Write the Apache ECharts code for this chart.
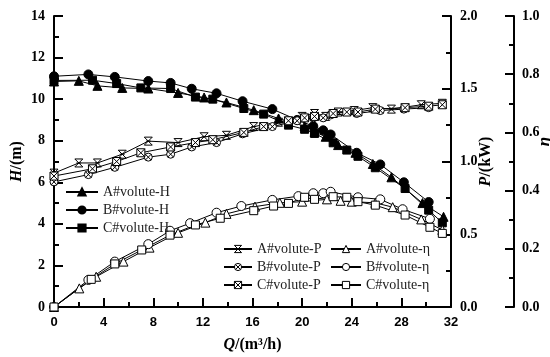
<!DOCTYPE html>
<html><head><meta charset="utf-8">
<script src="https://cdn.jsdelivr.net/npm/echarts@6/dist/echarts.min.js"></script>
<style>html,body{margin:0;padding:0;background:#fff}#c{width:550px;height:357px}</style>
</head><body><div id="c"></div>
<script>
// Flow rate ticks
const xTicks = [0, 4, 8, 12, 16, 20, 24, 28, 32];
// Head H (m)
const qA_H = [0, 2.0, 3.5, 5.5, 7.6, 10.0, 12.1, 13.9, 16.1, 18.1, 20.2, 21.0, 21.9, 22.9, 24.3, 25.7, 27.2, 29.7, 31.4];
const hA   = [10.85, 10.88, 10.64, 10.54, 10.51, 10.3, 10.08, 9.84, 9.47, 9.07, 8.7, 8.43, 8.19, 7.79, 7.42, 6.88, 6.24, 5.0, 4.34];
const qB_H = [0, 2.77, 4.9, 7.6, 9.4, 11.1, 13.1, 15.2, 17.6, 19.6, 20.9, 21.7, 22.3, 24.4, 26.3, 28.2, 30.2];
const hB   = [11.1, 11.19, 11.07, 10.87, 10.78, 10.5, 10.28, 9.9, 9.52, 9.0, 8.7, 8.5, 8.3, 7.42, 6.86, 6.0, 5.05];
const qC_H = [0, 3.1, 5.05, 7.0, 9.4, 11.4, 12.8, 15.3, 16.9, 18.9, 20.2, 21.0, 22.5, 23.6, 24.5, 25.9, 28.3, 30.2, 31.3];
const hC   = [10.9, 10.91, 10.75, 10.54, 10.51, 10.1, 10.0, 9.55, 9.28, 8.75, 8.55, 8.35, 7.9, 7.55, 7.25, 6.7, 5.7, 4.66, 4.05];
// Power P (kW)
const qA_P = [0, 2.0, 3.5, 5.5, 7.6, 10.0, 12.1, 13.9, 16.1, 18.1, 20.0, 21.0, 21.9, 22.9, 24.2, 25.7, 27.2, 29.6, 31.3];
const pA   = [0.92, 0.99, 0.99, 1.05, 1.14, 1.13, 1.17, 1.18, 1.24, 1.27, 1.31, 1.33, 1.31, 1.34, 1.35, 1.37, 1.36, 1.39, 1.40];
const qB_P = [0, 2.77, 4.9, 7.6, 9.4, 11.1, 13.1, 15.2, 17.6, 19.6, 20.9, 21.7, 22.3, 24.4, 26.3, 28.2, 30.2];
const pB   = [0.86, 0.91, 0.96, 1.03, 1.05, 1.10, 1.13, 1.19, 1.24, 1.28, 1.30, 1.30, 1.32, 1.33, 1.35, 1.36, 1.37];
const qC_P = [0, 3.1, 5.05, 7.0, 9.4, 11.4, 12.8, 15.3, 16.9, 18.9, 20.2, 21.0, 22.5, 23.6, 24.5, 25.9, 28.3, 30.2, 31.3];
const pC   = [0.90, 0.95, 1.00, 1.06, 1.10, 1.13, 1.15, 1.20, 1.24, 1.28, 1.30, 1.31, 1.33, 1.34, 1.34, 1.36, 1.37, 1.38, 1.39];
// Efficiency eta
const qA_E = [0, 2.04, 3.4, 5.6, 7.7, 10.0, 12.2, 13.9, 16.2, 18.2, 20.0, 22.0, 23.1, 24.0, 25.9, 27.3, 29.6, 31.3];
const eA   = [0, 0.064, 0.104, 0.156, 0.204, 0.255, 0.29, 0.32, 0.345, 0.358, 0.362, 0.37, 0.365, 0.362, 0.358, 0.343, 0.301, 0.265];
const qB_E = [0, 2.77, 4.9, 7.6, 9.35, 10.97, 13.1, 15.1, 17.6, 19.7, 20.9, 21.7, 22.3, 24.5, 26.3, 28.1, 30.3];
const eB   = [0, 0.093, 0.156, 0.216, 0.262, 0.288, 0.324, 0.347, 0.368, 0.381, 0.391, 0.391, 0.396, 0.377, 0.37, 0.336, 0.303];
const qC_E = [0, 3.0, 4.9, 7.07, 9.35, 11.4, 13.4, 16.1, 17.7, 18.9, 20.2, 21.0, 22.5, 23.6, 24.5, 25.9, 28.3, 30.3, 31.3];
const eC   = [0, 0.095, 0.148, 0.196, 0.247, 0.282, 0.305, 0.331, 0.347, 0.356, 0.377, 0.37, 0.379, 0.377, 0.362, 0.35, 0.316, 0.274, 0.253];

const names = {
  AH: 'A#volute-H', BH: 'B#volute-H', CH: 'C#volute-H',
  AP: 'A#volute-P', BP: 'B#volute-P', CP: 'C#volute-P',
  AE: 'A#volute-η', BE: 'B#volute-η', CE: 'C#volute-η'
};

function pairs(xs, ys) { return xs.map((x, i) => [x, ys[i]]); }

const symAP = 'path://M0,0 L10,0 M0,10 L10,10 M0,0 L10,10 M10,0 L0,10 M2,5 L8,5';
const symBP = 'path://M5,0 A5,5 0 1,1 5,10 A5,5 0 1,1 5,0 Z M1.5,1.5 L8.5,8.5 M8.5,1.5 L1.5,8.5';
const symCP = 'path://M0,0 L10,0 L10,10 L0,10 Z M0,0 L10,10 M10,0 L0,10';

const serif = 'Liberation Serif';
const tickSerif = () => ({fontFamily: serif, fontWeight: 'bold', fontSize: 14, color: '#000'});

function mkSeries(name, data, yIdx, symbol, size, filled) {
  return {
    name: name, type: 'line', yAxisIndex: yIdx, data: data,
    symbol: symbol, symbolSize: size, showSymbol: true,
    lineStyle: {color: '#000', width: 1},
    itemStyle: {color: filled ? '#000' : '#fff', borderColor: '#000', borderWidth: 1},
    emphasis: {disabled: true}, animation: false
  };
}

function axisCommon() {
  return {
    axisLine: {show: true, onZero: false, lineStyle: {color: '#000', width: 2}},
    axisTick: {show: true, inside: true, length: 9, lineStyle: {color: '#000', width: 2}},
    minorTick: {show: true, splitNumber: 2, length: 5, lineStyle: {color: '#000', width: 2}},
    splitLine: {show: false},
    nameMoveOverlap: false
  };
}

function legendItems(keys, filled) {
  return keys.map(k => ({
    name: names[k],
    itemStyle: {color: filled ? '#000' : '#fff', borderColor: '#000', borderWidth: 1}
  }));
}

const legendText = {fontFamily: serif, fontSize: 14, color: '#222'};

const chart = echarts.init(document.getElementById('c'), null, {renderer: 'canvas'});
chart.setOption({
  backgroundColor: '#fff',
  animation: false,
  grid: {left: 54, right: 99, top: 16, bottom: 50, containLabel: false, outerBoundsMode: 'none'},
  legend: [
    {data: [names.AH, names.BH, names.CH], orient: 'vertical', left: 60, top: 180,
     itemWidth: 32, itemHeight: 9, itemGap: 4, textStyle: legendText},
    {data: legendItems(['AP', 'BP', 'CP'], false), orient: 'vertical', left: 218, top: 237,
     itemWidth: 28, itemHeight: 9, itemGap: 4, textStyle: legendText},
    {data: legendItems(['AE', 'BE', 'CE'], false), orient: 'vertical', left: 325, top: 237,
     itemWidth: 30, itemHeight: 9, itemGap: 4, textStyle: legendText}
  ],
  xAxis: Object.assign(axisCommon(), {
    type: 'value', min: xTicks[0], max: xTicks[xTicks.length - 1], interval: 4,
    axisLabel: {fontFamily: 'Liberation Sans', fontWeight: 'bold', fontSize: 13, color: '#000', margin: 9},
    name: '{i|Q}{n|/(m³/h)}', nameLocation: 'middle', nameGap: 30,
    nameTextStyle: {rich: {
      i: {fontFamily: serif, fontStyle: 'italic', fontWeight: 'bold', fontSize: 16, color: '#000'},
      n: {fontFamily: serif, fontWeight: 'bold', fontSize: 16, color: '#000'}
    }}
  }),
  yAxis: [
    Object.assign(axisCommon(), {
      type: 'value', min: 0, max: 14, interval: 2, position: 'left',
      axisLabel: Object.assign({margin: 9}, tickSerif()),
      name: '{i|H}{n|/(m)}', nameLocation: 'middle', nameGap: 29, nameRotate: 90,
      nameTextStyle: {rich: {
        i: {fontFamily: serif, fontStyle: 'italic', fontWeight: 'bold', fontSize: 16, color: '#000'},
        n: {fontFamily: serif, fontWeight: 'bold', fontSize: 16, color: '#000'}
      }}
    }),
    Object.assign(axisCommon(), {
      type: 'value', min: 0, max: 2, interval: 0.5, position: 'right',
      axisLabel: Object.assign({margin: 9, formatter: v => v.toFixed(1)}, tickSerif()),
      name: '{i|P}{n|/(kW)}', nameLocation: 'middle', nameGap: 27, nameRotate: 90,
      nameTextStyle: {rich: {
        i: {fontFamily: serif, fontStyle: 'italic', fontWeight: 'bold', fontSize: 16, color: '#000'},
        n: {fontFamily: serif, fontWeight: 'bold', fontSize: 16, color: '#000'}
      }}
    }),
    Object.assign(axisCommon(), {
      type: 'value', min: 0, max: 1, interval: 0.2, position: 'right', offset: 63,
      axisLabel: Object.assign({margin: 8, formatter: v => v.toFixed(1)}, tickSerif()),
      name: 'η', nameLocation: 'middle', nameGap: 22, nameRotate: 90,
      nameTextStyle: {fontFamily: serif, fontStyle: 'italic', fontWeight: 'bold', fontSize: 17, color: '#000',
                      padding: [0, 0, 0, 40]}
    })
  ],
  series: [
    mkSeries(names.AH, pairs(qA_H, hA), 0, 'triangle', 9, true),
    mkSeries(names.BH, pairs(qB_H, hB), 0, 'circle', 9, true),
    mkSeries(names.CH, pairs(qC_H, hC), 0, 'rect', 8, true),
    mkSeries(names.AP, pairs(qA_P, pA), 1, symAP, 8, false),
    mkSeries(names.BP, pairs(qB_P, pB), 1, symBP, 8, false),
    mkSeries(names.CP, pairs(qC_P, pC), 1, symCP, 8, false),
    mkSeries(names.AE, pairs(qA_E, eA), 2, 'triangle', 9, false),
    mkSeries(names.BE, pairs(qB_E, eB), 2, 'circle', 9, false),
    mkSeries(names.CE, pairs(qC_E, eC), 2, 'rect', 8, false)
  ]
});
</script>
</body></html>
